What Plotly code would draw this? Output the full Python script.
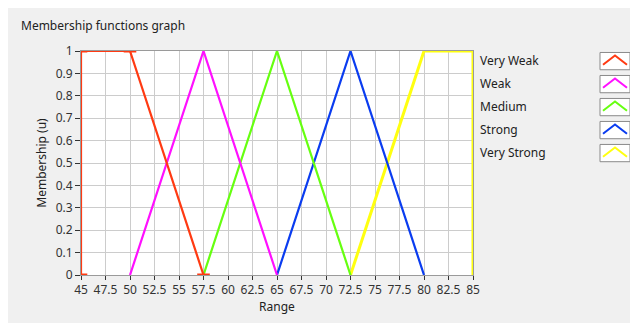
import plotly.graph_objects as go

names = ["Very Weak", "Weak", "Medium", "Strong", "Very Strong"]
colors = ["#ff3a12", "#ff10ff", "#66ff10", "#0a3cf0", "#ffff10"]
xs = [
    [45, 45, 50, 57.5],
    [50, 57.5, 65],
    [57.5, 65, 72.5],
    [65, 72.5, 80],
    [72.5, 80, 85, 85],
]
ys = [
    [0, 1, 1, 0],
    [0, 1, 0],
    [0, 1, 0],
    [0, 1, 0],
    [0, 1, 1, 0],
]
x_ticks = [45 + 2.5 * i for i in range(17)]
x_labels = ["45", "47.5", "50", "52.5", "55", "57.5", "60", "62.5", "65", "67.5",
            "70", "72.5", "75", "77.5", "80", "82.5", "85"]
y_ticks = [i / 10 for i in range(11)]
y_labels = ["0", "0.1", "0.2", "0.3", "0.4", "0.5", "0.6", "0.7", "0.8", "0.9", "1"]

OFF = 8
W, H = 630, 315
ML, MT = 81 - OFF, 51 - OFF
PW, PH = 392, 227
MR, MB = W - ML - PW, H - MT - PH

def px(xs_):
    return (xs_ - OFF - ML) / PW

def py(ys_):
    return 1 - (ys_ - OFF - MT) / PH

fig = go.Figure()
for i in range(len(names) - 1, -1, -1):
    mode = "lines+markers" if i == 0 else "lines"
    fig.add_trace(go.Scatter(
        x=xs[i], y=ys[i], mode=mode, name=names[i],
        line=dict(color=colors[i], width=2.2 if i < 4 else 3),
        marker=dict(symbol="line-ew-open", size=9, line=dict(color=colors[i], width=3)),
        showlegend=False,
    ))

shapes = []
annotations = [dict(text="Membership functions graph", xref="paper", yref="paper",
                    x=px(19), y=py(25), xanchor="left", yanchor="middle", showarrow=False,
                    font=dict(size=12, color="#222", family="Noto Sans"))]

for i, n in enumerate(names):
    yc = 61 + i * 23.3
    annotations.append(dict(text=n, xref="paper", yref="paper", x=px(478), y=py(yc),
                            xanchor="left", yanchor="middle", showarrow=False,
                            font=dict(size=12, color="#222", family="Noto Sans")))
    bx0, bx1 = 600, 630
    by0, by1 = yc - 8.5, yc + 9
    shapes.append(dict(type="rect", xref="paper", yref="paper",
                       x0=px(bx0), x1=px(bx1), y0=py(by1), y1=py(by0),
                       fillcolor="white", line=dict(color="#8a8a8a", width=1)))
    path = "M {} {} L {} {} L {} {}".format(
        px(bx0 + 3), py(by1 - 5), px((bx0 + bx1) / 2), py(by0 + 3), px(bx1 - 3), py(by1 - 5))
    shapes.append(dict(type="path", xref="paper", yref="paper", path=path,
                       line=dict(color=colors[i], width=2)))

fig.update_layout(
    width=W, height=H,
    margin=dict(l=ML, r=MR, t=MT, b=MB),
    paper_bgcolor="#f0f0f0", plot_bgcolor="white",
    font=dict(family="Noto Sans", size=12, color="#333"),
    shapes=shapes, annotations=annotations,
    xaxis=dict(range=[45, 85], tickvals=x_ticks, ticktext=x_labels,
               showgrid=True, gridcolor="#cccccc", gridwidth=1,
               showline=True, linecolor="#9a9a9a", linewidth=1, mirror=True,
               ticks="outside", ticklen=4, tickcolor="#333", zeroline=False,
               tickfont=dict(size=12, color="#333"),
               title=dict(text="Range", standoff=4, font=dict(size=12, color="#222"))),
    yaxis=dict(range=[0, 1], tickvals=y_ticks, ticktext=y_labels,
               showgrid=True, gridcolor="#cccccc", gridwidth=1,
               showline=True, linecolor="#9a9a9a", linewidth=1, mirror=True,
               ticks="outside", ticklen=5, tickcolor="#333", zeroline=False,
               tickfont=dict(size=12, color="#333"),
               title=dict(text="Membership (u)", standoff=6, font=dict(size=12, color="#222"))),
)

fig.write_html("out.html")
